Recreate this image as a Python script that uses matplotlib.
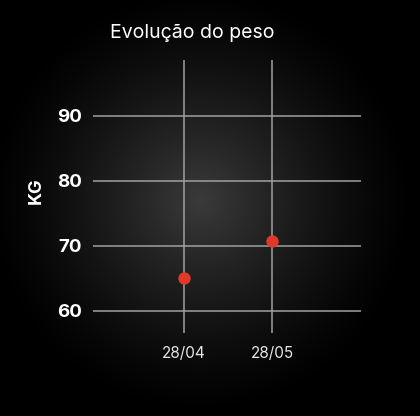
import numpy as np
import matplotlib
matplotlib.use('Agg')
import matplotlib.pyplot as plt

# data
dates = ['28/04', '28/05']
weights = [65.0, 70.8]
yticks = [60, 70, 80, 90]

plt.rcParams['font.family'] = ['Inter', 'DejaVu Sans']

fig = plt.figure(figsize=(4.2, 4.16), dpi=100)
fig.patch.set_facecolor('black')

# radial glow background
bg = fig.add_axes([0, 0, 1, 1])
bg.set_axis_off()
w, h = 420, 416
yy, xx = np.mgrid[0:h, 0:w]
r = np.hypot(xx - 200, yy - 200)
level = np.clip(1 - r / 215.0, 0, 1) ** 1.3 * 0.23
bg.imshow(np.dstack([level] * 3), extent=(0, 1, 0, 1), aspect='auto', zorder=0)
bg.set_xlim(0, 1)
bg.set_ylim(0, 1)

ax = fig.add_axes([93 / 420, 1 - 333 / 416, (361 - 93) / 420, (333 - 60) / 416])
ax.patch.set_alpha(0)
x = np.arange(len(dates))
ax.scatter(x, weights, s=80, color='#e0392b', zorder=3, linewidths=0)
ax.set_xlim(-1.034, 2.01)
ax.set_ylim(56.6, 98.6)
ax.set_xticks(x)
ax.set_xticklabels(dates)
ax.set_yticks(yticks)
ax.grid(True, color='#a0a0a0', linewidth=1.1)
ax.set_axisbelow(True)
for s in ax.spines.values():
    s.set_visible(False)
ax.tick_params(axis='both', length=0)
ax.tick_params(axis='y', pad=8, labelsize=13.5, labelcolor='white')
ax.tick_params(axis='x', pad=9, labelsize=11, labelcolor='#e6e6e6')
for lbl in ax.get_yticklabels():
    lbl.set_fontweight('bold')

fig.text(192.5 / 420, 1 - 33.5 / 416, 'Evolução do peso', color='white',
         fontsize=14, ha='center', va='center')
fig.text(36.7 / 420, 1 - 191 / 416, 'KG', color='white', fontsize=13,
         fontweight='bold', rotation=90, ha='center', va='center')

fig.savefig('out.png', dpi=100, facecolor='black')
